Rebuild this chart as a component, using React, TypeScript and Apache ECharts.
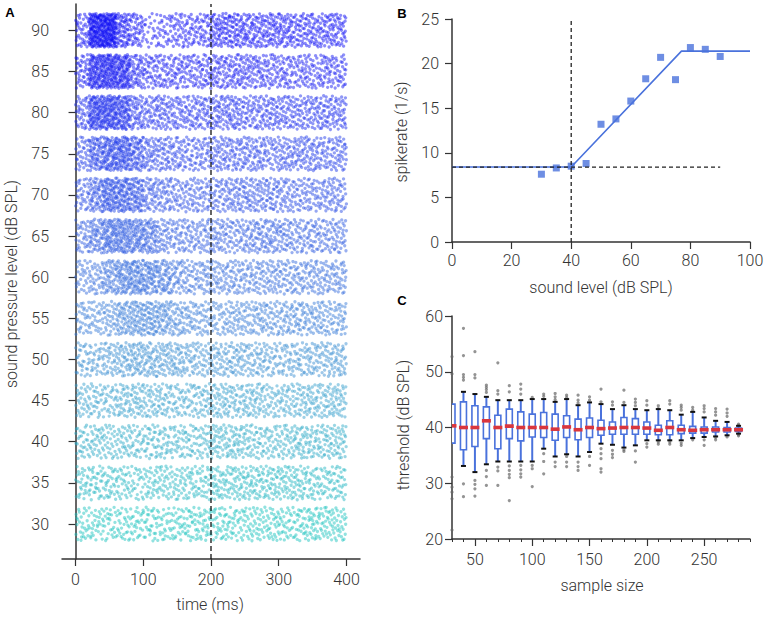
import React, { useEffect, useRef } from "react";
import * as echarts from "echarts";

// ---------- Panel A: raster (spike counts per 20-ms bin) ----------
const levels = [90, 85, 80, 75, 70, 65, 60, 55, 50, 45, 40, 35, 30];
const levelColors = [
  "#0c0cf4", "#1218f0", "#1828ec", "#1e38e8", "#2448e4", "#2a58e0", "#3068dc",
  "#347ad8", "#368cd2", "#349ecc", "#2caac6", "#24b6c2", "#1cc2be",
];
const binStartsMs = [0, 20, 40, 60, 80, 100, 120, 140, 160, 180, 200, 220, 240, 260, 280, 300, 320, 340, 360, 380];
const spikeCounts = [
  [40, 150, 160, 70, 45, 20, 30, 35, 35, 40, 55, 55, 50, 50, 50, 50, 45, 45, 45, 45],
  [40, 110, 110, 100, 55, 40, 40, 40, 40, 40, 45, 45, 45, 40, 40, 40, 35, 35, 40, 35],
  [40, 100, 100, 90, 50, 40, 45, 40, 40, 40, 45, 45, 40, 40, 40, 40, 40, 40, 40, 40],
  [35, 70, 85, 85, 70, 45, 40, 40, 35, 35, 40, 40, 40, 40, 35, 40, 40, 40, 35, 40],
  [35, 60, 80, 80, 70, 45, 40, 35, 35, 35, 35, 40, 40, 40, 40, 35, 35, 35, 35, 35],
  [35, 55, 75, 75, 70, 60, 40, 35, 35, 35, 40, 35, 35, 40, 45, 40, 35, 35, 35, 35],
  [30, 35, 50, 65, 70, 65, 55, 40, 35, 35, 35, 35, 35, 35, 35, 35, 35, 35, 35, 35],
  [30, 30, 35, 50, 55, 55, 50, 40, 35, 30, 30, 35, 35, 35, 35, 35, 35, 35, 35, 35],
  [30, 30, 35, 40, 45, 45, 40, 40, 35, 30, 35, 35, 35, 35, 30, 30, 30, 35, 35, 35],
  [30, 30, 30, 35, 35, 35, 35, 30, 30, 30, 35, 35, 35, 35, 30, 30, 35, 35, 35, 35],
  [30, 30, 30, 30, 30, 30, 30, 30, 30, 30, 35, 35, 35, 30, 30, 30, 35, 35, 35, 35],
  [30, 30, 30, 30, 25, 30, 30, 30, 30, 30, 35, 35, 35, 35, 35, 35, 35, 30, 30, 30],
  [28, 28, 28, 28, 28, 28, 28, 28, 30, 30, 30, 30, 30, 30, 30, 30, 30, 35, 35, 30],
];
const rasterYTicks = [30, 35, 40, 45, 50, 55, 60, 65, 70, 75, 80, 85, 90];
const rasterXTicks = [0, 100, 200, 300, 400];

// ---------- Panel B ----------
const soundLevels = [30, 35, 40, 45, 50, 55, 60, 65, 70, 75, 80, 85, 90];
const spikeRates = [7.6, 8.3, 8.5, 8.8, 13.2, 13.8, 15.8, 18.3, 20.7, 18.2, 21.8, 21.6, 20.8];
const fitX = [0, 40, 77, 100];
const fitY = [8.4, 8.4, 21.4, 21.4];
const thresholdLevel = 40;
const baselineRate = 8.4;

// ---------- Panel C ----------
const sampleSizes = [30, 40, 50, 60, 70, 80, 90, 100, 110, 120, 130, 140, 150, 160, 170, 180, 190, 200, 210, 220, 230, 240, 250, 260, 270, 280];
const whiskerLow = [37.2, 33.1, 32.0, 33.4, 33.9, 33.9, 33.9, 33.9, 36.2, 34.8, 35.2, 34.8, 35.6, 37.1, 36.9, 36.4, 36.8, 37.7, 37.7, 37.7, 37.7, 38.1, 38.3, 38.4, 38.6, 38.9];
const q1 = [37.2, 36.0, 36.6, 38.0, 36.2, 38.0, 37.6, 38.3, 38.2, 37.7, 38.2, 37.8, 38.2, 38.6, 38.8, 38.8, 38.8, 38.8, 38.7, 38.7, 38.9, 39.0, 39.0, 39.2, 39.2, 39.3];
const medians = [40.3, 40.0, 40.0, 41.2, 40.0, 40.25, 40.0, 40.0, 40.0, 39.7, 40.1, 39.6, 40.0, 39.8, 39.9, 40.0, 40.0, 39.9, 39.5, 40.0, 39.6, 39.5, 39.6, 39.6, 39.6, 39.6];
const q3 = [44.2, 44.6, 43.9, 43.7, 42.2, 43.3, 42.8, 42.4, 42.7, 42.4, 42.1, 41.5, 41.7, 41.3, 41.0, 41.8, 41.6, 41.0, 40.4, 41.2, 40.4, 40.2, 40.1, 40.1, 40.0, 39.9];
const whiskerHigh = [44.2, 46.4, 46.0, 45.5, 44.9, 44.9, 44.9, 45.1, 45.1, 44.6, 45.1, 44.0, 44.5, 44.2, 43.3, 44.0, 43.3, 43.1, 43.3, 43.1, 42.3, 42.8, 41.8, 41.2, 41.0, 40.3];
const outliers = [
  [52.7, 49.6, 31.1, 29.3, 28.4, 27.2, 21.6],
  [57.8, 52.9, 49.5, 49.0, 48.5, 29.9, 27.6],
  [53.6, 49.5, 48.9, 30.5, 29.8, 29.0, 27.7],
  [47.6, 47.2, 46.8, 46.3, 32.3, 31.2, 29.6],
  [51.6, 46.6, 46.0, 32.9, 32.2, 29.6],
  [47.5, 46.4, 33.1, 32.3, 31.6, 31.0, 26.9],
  [47.8, 46.9, 46.0, 33.2, 32.4, 31.7, 31.1],
  [45.4, 33.2, 32.6, 29.4],
  [46.0, 45.6, 35.3, 33.9, 31.7],
  [46.1, 45.5, 45.0, 33.8, 33.0],
  [45.8, 45.4, 34.8, 33.8, 33.0],
  [45.8, 44.9, 44.4, 33.8, 33.0, 32.3],
  [45.5, 44.9, 34.8, 33.2],
  [46.9, 44.6, 36.2, 35.3, 34.4, 32.6, 32.0],
  [44.6, 44.0, 35.9, 35.2, 34.6],
  [46.7, 44.5, 36.0, 35.7],
  [45.1, 44.5, 43.9, 35.8, 33.8],
  [44.8, 44.0, 37.1, 36.5],
  [43.9, 43.4, 37.4, 37.0],
  [44.8, 44.2, 37.4, 37.0],
  [44.0, 43.6, 43.1, 37.2, 36.8],
  [43.6, 43.1, 37.8],
  [43.9, 43.4, 42.8, 37.8, 36.8],
  [43.4, 42.8, 42.2, 38.2, 37.8],
  [43.3, 42.6, 42.0, 38.3],
  [40.6, 40.4, 38.7, 38.5],
];
const sampleTicks = [50, 100, 150, 200, 250];

const FONT = "Roboto";
const TXT = "#333";
const AX = "#333";
const BLUE = "#4a72dc";

function halton(i: number, base: number): number {
  let f = 1;
  let r = 0;
  while (i > 0) {
    f /= base;
    r += f * (i % base);
    i = Math.floor(i / base);
  }
  return r;
}

function rasterPoints(levelIdx: number): number[][] {
  // Individual spike times cannot be read; the per-bin counts above are,
  // and the dots of each bin are spread evenly over the bin (Halton sequence).
  const lvl = levels[levelIdx];
  const counts = spikeCounts[levelIdx];
  const pts: number[][] = [];
  let k = 17 + levelIdx * 613;
  for (let b = 0; b < counts.length; b++) {
    for (let i = 0; i < counts[b]; i++) {
      k++;
      const u = halton(k, 2);
      const v = halton(k, 3);
      pts.push([binStartsMs[b] + u * 20, lvl - 2.05 + v * 4.1]);
    }
  }
  return pts;
}

const axisLabelStyle = { color: TXT, fontSize: 16, fontFamily: FONT, fontWeight: 300 as any };

export default function App() {
  const ref = useRef<HTMLDivElement>(null);
  useEffect(() => {
    if (!ref.current) return;
    const chart = echarts.init(ref.current, null, { renderer: "svg" });

    const rasterSeries = levels.map((lvl, i) => ({
      type: "scatter",
      xAxisIndex: 0,
      yAxisIndex: 0,
      data: rasterPoints(i),
      symbol: "circle",
      symbolSize: 3.3,
      itemStyle: { color: levelColors[i], opacity: 0.48 },
      silent: true,
      z: 2,
    }));

    const boxData = sampleSizes.map((s, i) => [s, whiskerLow[i], q1[i], medians[i], q3[i], whiskerHigh[i]]);
    const outlierData: number[][] = [];
    sampleSizes.forEach((s, i) => outliers[i].forEach((v) => outlierData.push([s, v])));

    const option: any = {
      animation: false,
      textStyle: { fontFamily: FONT },
      grid: [
        { left: 62, top: 4, width: 298, height: 555 },
        { left: 452, top: 19, width: 298, height: 223 },
        { left: 452, top: 316, width: 298, height: 223 },
      ],
      xAxis: [
        {
          type: "value", gridIndex: 0, min: -20, max: 420, position: "bottom",
          axisLine: { show: true, lineStyle: { color: AX, width: 1.5 } },
          axisTick: { show: true, length: 7, lineStyle: { color: AX, width: 1.2 }, customValues: rasterXTicks },
          axisLabel: { ...axisLabelStyle, margin: 12, customValues: rasterXTicks },
          splitLine: { show: false },
        },
        {
          type: "value", gridIndex: 1, min: 0, max: 100, interval: 20, position: "bottom",
          axisLine: { show: true, lineStyle: { color: AX, width: 1.5 } },
          axisTick: { show: true, length: 7, lineStyle: { color: AX, width: 1.2 } },
          axisLabel: { ...axisLabelStyle, margin: 10 },
          splitLine: { show: false },
        },
        {
          type: "value", gridIndex: 2, min: 30, max: 290, position: "bottom",
          axisLine: { show: true, lineStyle: { color: AX, width: 1.5 } },
          axisTick: { show: true, length: 7, lineStyle: { color: AX, width: 1.2 }, customValues: sampleTicks },
          axisLabel: { ...axisLabelStyle, margin: 12, customValues: sampleTicks },
          splitLine: { show: false },
        },
        {
          type: "value", gridIndex: 2, min: 30, max: 290, interval: 10, position: "bottom", offset: 0,
          axisLine: { show: false, onZero: false },
          axisTick: { show: true, length: 3, lineStyle: { color: AX, width: 1 } },
          axisLabel: { show: false },
          splitLine: { show: false },
        },
      ],
      yAxis: [
        {
          type: "value", gridIndex: 0, min: 25.75, max: 93.2,
          axisLine: { show: true, lineStyle: { color: AX, width: 1.5 } },
          axisTick: { show: true, length: 7, lineStyle: { color: AX, width: 1.2 }, customValues: rasterYTicks },
          axisLabel: { ...axisLabelStyle, margin: 13, customValues: rasterYTicks },
          splitLine: { show: false },
        },
        {
          type: "value", gridIndex: 1, min: 0, max: 25, interval: 5,
          axisLine: { show: true, lineStyle: { color: AX, width: 1.5 } },
          axisTick: { show: true, length: 7, lineStyle: { color: AX, width: 1.2 } },
          axisLabel: { ...axisLabelStyle, margin: 13 },
          splitLine: { show: false },
        },
        {
          type: "value", gridIndex: 2, min: 20, max: 60, interval: 10,
          axisLine: { show: true, lineStyle: { color: AX, width: 1.5 } },
          axisTick: { show: true, length: 7, lineStyle: { color: AX, width: 1.2 } },
          axisLabel: { ...axisLabelStyle, margin: 9 },
          splitLine: { show: false },
        },
      ],
      series: [
        ...rasterSeries,
        {
          type: "line", xAxisIndex: 0, yAxisIndex: 0,
          data: [[200, 25.75], [200, 93.2]],
          symbol: "none",
          lineStyle: { color: "#111", width: 1.3, type: [5, 3] },
          z: 5, silent: true,
        },
        // Panel B
        {
          type: "line", xAxisIndex: 1, yAxisIndex: 1,
          data: fitX.map((x, i) => [x, fitY[i]]),
          symbol: "none",
          lineStyle: { color: BLUE, width: 1.6 },
          z: 3,
        },
        {
          type: "scatter", xAxisIndex: 1, yAxisIndex: 1,
          data: soundLevels.map((x, i) => [x, spikeRates[i]]),
          symbol: "rect", symbolSize: 7,
          itemStyle: { color: BLUE },
          z: 4,
        },
        {
          type: "line", xAxisIndex: 1, yAxisIndex: 1,
          data: [[thresholdLevel, 0], [thresholdLevel, 25]],
          symbol: "none",
          lineStyle: { color: "#222", width: 1.3, type: [4, 3] },
          z: 5,
        },
        {
          type: "line", xAxisIndex: 1, yAxisIndex: 1,
          data: [[0, baselineRate], [90, baselineRate]],
          symbol: "none",
          lineStyle: { color: "#222", width: 1.3, type: [4, 3] },
          z: 5,
        },
        // Panel C
        {
          type: "scatter", xAxisIndex: 2, yAxisIndex: 2,
          data: outlierData,
          symbol: "circle", symbolSize: 3.2,
          itemStyle: { color: "#666", opacity: 0.7 },
          z: 2,
        },
        {
          type: "custom", xAxisIndex: 2, yAxisIndex: 2,
          data: boxData,
          clip: true,
          encode: { x: 0, y: [1, 2, 3, 4, 5] },
          z: 3,
          renderItem: (params: any, api: any) => {
            const x = api.value(0);
            const lo = api.coord([x, api.value(1)]);
            const a = api.coord([x, api.value(2)]);
            const m = api.coord([x, api.value(3)]);
            const b = api.coord([x, api.value(4)]);
            const hi = api.coord([x, api.value(5)]);
            const cx = lo[0];
            const hw = 3;
            const children: any[] = [
              { type: "line", shape: { x1: cx, y1: hi[1], x2: cx, y2: b[1] }, style: { stroke: BLUE, lineWidth: 2 } },
              { type: "line", shape: { x1: cx, y1: a[1], x2: cx, y2: lo[1] }, style: { stroke: BLUE, lineWidth: 2 } },
              { type: "rect", shape: { x: cx - hw, y: b[1], width: hw * 2, height: a[1] - b[1] }, style: { fill: "#fff", stroke: BLUE, lineWidth: 1.6 } },
            ];
            if (api.value(1) < api.value(2)) {
              children.push({ type: "line", shape: { x1: cx - 2.5, y1: lo[1], x2: cx + 2.5, y2: lo[1] }, style: { stroke: "#111", lineWidth: 2 } });
            }
            if (api.value(5) > api.value(4)) {
              children.push({ type: "line", shape: { x1: cx - 2.5, y1: hi[1], x2: cx + 2.5, y2: hi[1] }, style: { stroke: "#111", lineWidth: 2 } });
            }
            children.push({ type: "rect", shape: { x: cx - 4.5, y: m[1] - 1.8, width: 9, height: 3.6 }, style: { fill: "#d9363e" } });
            return { type: "group", children };
          },
        },
      ],
      graphic: [
        { type: "text", x: 10, y: 12, style: { text: "A", fontSize: 13, fontWeight: "bold", fontFamily: "Liberation Sans", fill: "#000", align: "center", verticalAlign: "middle" } },
        { type: "text", x: 402, y: 13, style: { text: "B", fontSize: 13, fontWeight: "bold", fontFamily: "Liberation Sans", fill: "#000", align: "center", verticalAlign: "middle" } },
        { type: "text", x: 402, y: 300, style: { text: "C", fontSize: 13, fontWeight: "bold", fontFamily: "Liberation Sans", fill: "#000", align: "center", verticalAlign: "middle" } },
        { type: "text", x: 210, y: 604, style: { text: "time (ms)", fontSize: 16, fontWeight: 300, fontFamily: FONT, fill: TXT, align: "center", verticalAlign: "middle" } },
        { type: "text", x: 11, y: 284, rotation: Math.PI / 2, style: { text: "sound pressure level (dB SPL)", fontSize: 16, fontWeight: 300, fontFamily: FONT, fill: TXT, align: "center", verticalAlign: "middle" } },
        { type: "text", x: 601, y: 287, style: { text: "sound level (dB SPL)", fontSize: 16, fontWeight: 300, fontFamily: FONT, fill: TXT, align: "center", verticalAlign: "middle" } },
        { type: "text", x: 401, y: 132, rotation: Math.PI / 2, style: { text: "spikerate (1/s)", fontSize: 16, fontWeight: 300, fontFamily: FONT, fill: TXT, align: "center", verticalAlign: "middle" } },
        { type: "text", x: 602, y: 585, style: { text: "sample size", fontSize: 16, fontWeight: 300, fontFamily: FONT, fill: TXT, align: "center", verticalAlign: "middle" } },
        { type: "text", x: 403, y: 425, rotation: Math.PI / 2, style: { text: "threshold (dB SPL)", fontSize: 16, fontWeight: 300, fontFamily: FONT, fill: TXT, align: "center", verticalAlign: "middle" } },
      ],
    };
    chart.setOption(option);
    return () => chart.dispose();
  }, []);
  return <div ref={ref} style={{ position: "fixed", left: 0, top: 0, width: 767, height: 617, background: "#fff" }} />;
}
